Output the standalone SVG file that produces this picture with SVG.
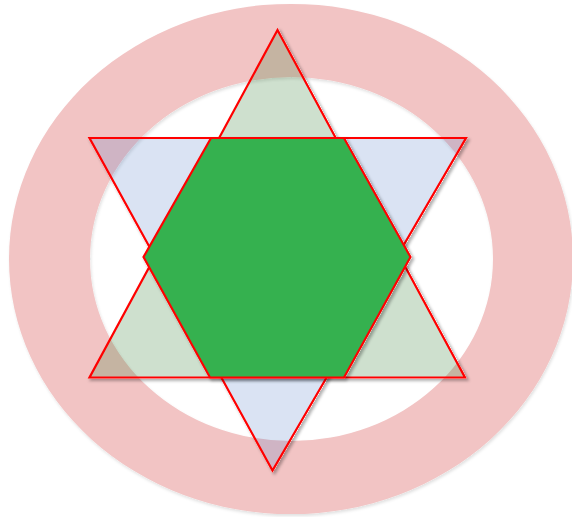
<svg xmlns="http://www.w3.org/2000/svg" width="572" height="517" viewBox="0 0 572 517">
<defs>
<style>
.ring{fill:#f2c4c4;fill-rule:evenodd}
.tri{stroke:#ff0000;stroke-width:2.2;stroke-linejoin:miter}
.up{fill:rgb(56,132,56);fill-opacity:0.25}
.down{fill:#4472c4;fill-opacity:0.2}
.hex{fill:#34b14f;stroke:#ff0000;stroke-width:2.2}
</style>
<filter id="soft" x="-10%" y="-10%" width="120%" height="120%">
<feDropShadow dx="1" dy="2" stdDeviation="1.5" flood-color="#000" flood-opacity="0.12"/>
</filter>
<filter id="sh" x="-10%" y="-10%" width="120%" height="120%">
<feMorphology in="SourceAlpha" operator="dilate" radius="0" result="a"/>
<feComponentTransfer in="SourceAlpha" result="solid"><feFuncA type="linear" slope="20"/></feComponentTransfer>
<feGaussianBlur in="solid" stdDeviation="1.5" result="b"/>
<feOffset in="b" dx="2" dy="2" result="o"/>
<feFlood flood-color="#000" flood-opacity="0.3"/>
<feComposite in2="o" operator="in" result="s"/>
<feComposite in="s" in2="solid" operator="out" result="so"/>
<feMerge><feMergeNode in="so"/><feMergeNode in="SourceGraphic"/></feMerge>
</filter>
</defs>
<g id="ring" filter="url(#soft)">
<path class="ring" d="M9,259 A282,255 0 1,0 573,259 A282,255 0 1,0 9,259 Z M90,259 A201.5,182 0 1,0 493,259 A201.5,182 0 1,0 90,259 Z"/>
</g>
<g id="triangle-up" filter="url(#sh)">
<polygon class="tri up" points="277.5,30 465,377.5 89.5,377.5"/>
</g>
<g id="triangle-down" filter="url(#sh)">
<polygon class="tri down" points="89.5,138 466,138 272.5,470.5"/>
</g>
<g id="hexagon" filter="url(#sh)">
<polygon class="hex" points="211,138 344,138 410.5,257 344,377.5 210,377.5 143.5,257"/>
</g>
<g id="connectors"></g>
</svg>
